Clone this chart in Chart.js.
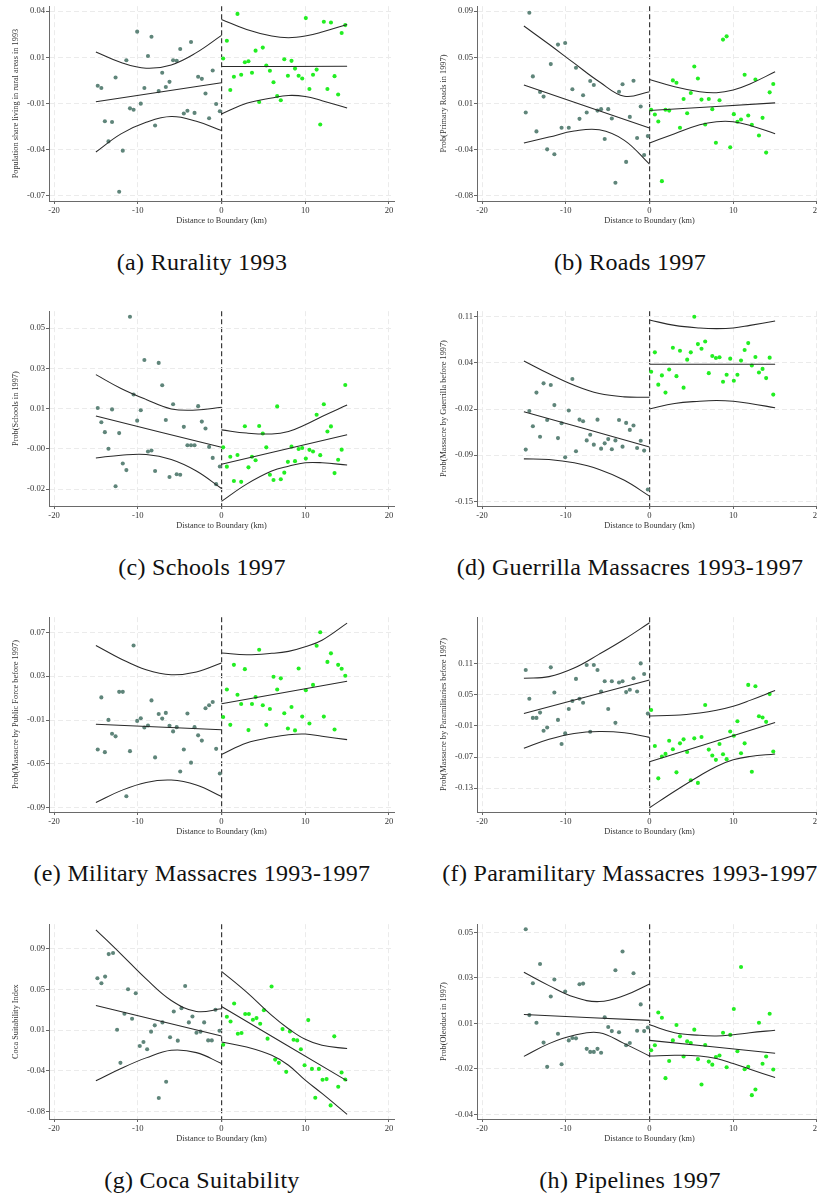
<!DOCTYPE html>
<html lang="en">
<head>
<meta charset="UTF-8">
<title>Boundary discontinuity plots</title>
<script src="https://cdn.jsdelivr.net/npm/chart.js"></script>
<style>
  html, body { margin: 0; padding: 0; background: #fff; overflow: hidden; width: 817px; height: 1195px; }
  .panel { position: absolute; width: 404px; height: 290px; }
  .panel canvas { position: absolute; left: 0; top: 0; }
  .caption {
    position: absolute; left: 0; top: 247px; width: 404px;
    text-align: center; white-space: nowrap;
    font-family: 'Liberation Serif', serif; font-size: 24px; letter-spacing: 0.3px; line-height: 30px; color: #111;
  }
</style>
</head>
<body>
<div class="panel" style="left:0;top:0"><canvas id="chartA" width="400" height="227"></canvas><div class="caption">(a) Rurality 1993</div></div>
<div class="panel" style="left:428px;top:0"><canvas id="chartB" width="400" height="227"></canvas><div class="caption">(b) Roads 1997</div></div>
<div class="panel" style="left:0;top:305px"><canvas id="chartC" width="400" height="227"></canvas><div class="caption">(c) Schools 1997</div></div>
<div class="panel" style="left:428px;top:305px"><canvas id="chartD" width="400" height="227"></canvas><div class="caption">(d) Guerrilla Massacres 1993-1997</div></div>
<div class="panel" style="left:0;top:611px"><canvas id="chartE" width="400" height="227"></canvas><div class="caption">(e) Military Massacres 1993-1997</div></div>
<div class="panel" style="left:428px;top:611px"><canvas id="chartF" width="400" height="227"></canvas><div class="caption">(f) Paramilitary Massacres 1993-1997</div></div>
<div class="panel" style="left:0;top:918px"><canvas id="chartG" width="400" height="227"></canvas><div class="caption">(g) Coca Suitability</div></div>
<div class="panel" style="left:428px;top:918px"><canvas id="chartH" width="400" height="227"></canvas><div class="caption">(h) Pipelines 1997</div></div>

<script>
// x axis
const xTicks = [-20, -10, 0, 10, 20];
const xTitle = 'Distance to Boundary (km)';

// bin centres (km from boundary)
const leftBins = [-14.78, -14.35, -13.93, -13.5, -13.07, -12.65, -12.22, -11.79, -11.36, -10.93, -10.5, -10.07,
  -9.64, -9.21, -8.78, -8.36, -7.93, -7.5, -7.08, -6.65, -6.21, -5.78, -5.35, -4.93, -4.5, -4.07, -3.64, -3.22,
  -2.79, -2.35, -1.91, -1.48, -1.05, -0.64, -0.2];
const rightBins = [0.2, 0.64, 1.05, 1.48, 1.91, 2.35, 2.79, 3.22, 3.64, 4.07, 4.5, 4.93, 5.35, 5.78, 6.21, 6.65,
  7.08, 7.5, 7.93, 8.36, 8.78, 9.21, 9.64, 10.07, 10.5, 10.93, 11.36, 11.79, 12.22, 12.65, 13.07, 13.5, 13.93,
  14.35, 14.78];

// x positions of fitted lines and confidence bands
const fitLeftX = [-15, 0];
const fitRightX = [0, 15];
const ciLeftX = [-15, -12, -9, -6, -3, 0];
const ciRightX = [0, 3, 6, 8, 10, 12, 15];

// (a) Rurality 1993
const aYTicks = [-0.07, -0.0425, -0.015, 0.0125, 0.04];
const aYLabels = ['-0.07', '-0.04', '-0.01', '0.01', '0.04'];
const aLeft = [-0.0044, -0.0058, -0.0256, -0.0376, -0.0260, 0.0005, -0.0676, -0.0431, 0.0108, -0.0179, -0.0187, 0.0278,
  -0.0151, -0.0058, 0.0133, 0.0248, -0.0281, -0.0076, 0.0033, -0.0052, -0.0021, 0.0108, 0.0104, 0.0175, -0.0210,
  -0.0193, 0.0216, -0.0206, 0.0009, -0.0003, -0.0090, -0.0238, 0.0047, -0.0153, -0.0196];
const aRight = [0.0118, 0.0224, -0.0070, 0.0009, 0.0384, 0.0021, 0.0096, 0.0102, 0.0033, 0.0165, -0.0141, 0.0183,
  0.0076, 0.0045, -0.0023, -0.0106, -0.0131, 0.0114, 0.0015, 0.0104, 0.0058, 0.0015, -0.0001, 0.0359, -0.0064,
  0.0021, 0.0052, -0.0275, 0.0337, -0.0064, 0.0333, 0.0013, -0.0096, 0.0270, 0.0317];
const aFitL = [-0.0139, -0.0027];
const aFitR = [0.0070, 0.0072];
const aUpL = [0.0157, 0.0094, 0.0060, 0.0080, 0.0153, 0.0256];
const aLoL = [-0.0439, -0.0331, -0.0262, -0.0228, -0.0256, -0.0311];
const aUpR = [0.0351, 0.0291, 0.0252, 0.0242, 0.0252, 0.0276, 0.0321];
const aLoR = [-0.0212, -0.0149, -0.0117, -0.0102, -0.0108, -0.0133, -0.0177];

// (b) Roads 1997
const bYTicks = [-0.08, -0.0375, 0.005, 0.0475, 0.09];
const bYLabels = ['-0.08', '-0.04', '0.01', '0.05', '0.09'];
const bLeft = [-0.0034, 0.0885, 0.0299, -0.0208, 0.0155, 0.0113, -0.0373, 0.0412, -0.0418, 0.0592, -0.0174, 0.0607,
  -0.0174, 0.0180, 0.0378, -0.0092, 0.0125, -0.0034, 0.0256, 0.0219, -0.0016, -0.0003, -0.0278, -0.0003, -0.0089,
  -0.0681, 0.0158, 0.0226, -0.0489, -0.0074, 0.0259, -0.0269, 0.0021, -0.0425, -0.0251];
const bRight = [-0.0009, -0.0052, -0.0116, -0.0666, -0.0009, -0.0016, 0.0262, 0.0241, -0.0174, 0.0091, -0.0040, 0.0146,
  0.0390, 0.0280, 0.0085, -0.0144, 0.0091, -0.0003, -0.0312, 0.0079, 0.0638, 0.0668, -0.0354, -0.0049, -0.0119,
  -0.0098, 0.0314, -0.0061, -0.0147, 0.0271, -0.0245, -0.0083, -0.0403, 0.0152, 0.0229];
const bFitL = [0.0219, -0.0177];
const bFitR = [-0.0016, 0.0055];
const bUpL = [0.0763, 0.0595, 0.0421, 0.0250, 0.0116, 0.0158];
const bLoL = [-0.0315, -0.0260, -0.0205, -0.0193, -0.0290, -0.0510];
const bUpR = [0.0271, 0.0204, 0.0158, 0.0149, 0.0174, 0.0229, 0.0341];
const bLoR = [-0.0315, -0.0229, -0.0147, -0.0119, -0.0119, -0.0153, -0.0229];

// (c) Schools 1997
const cYTicks = [-0.02, -0.0025, 0.015, 0.0325, 0.05];
const cYLabels = ['-0.02', '-0.00', '0.01', '0.03', '0.05'];
const cLeft = [0.0153, 0.0091, 0.0048, -0.0024, 0.0147, -0.0187, 0.0044, -0.0088, -0.0117, 0.0550, 0.0212, 0.0098,
  0.0143, 0.0362, -0.0036, -0.0032, -0.0121, 0.0349, 0.0252, 0.0101, -0.0147, 0.0169, -0.0135, -0.0137, 0.0071,
  -0.0009, -0.0009, -0.0009, 0.0161, 0.0094, 0.0064, -0.0016, -0.0064, -0.0178, -0.0101];
const cRight = [-0.0018, -0.0102, -0.0059, -0.0164, -0.0051, -0.0168, 0.0074, -0.0105, -0.0059, -0.0074, 0.0075, 0.0042,
  -0.0018, -0.0137, -0.0160, 0.0160, -0.0157, -0.0128, -0.0081, -0.0015, -0.0078, -0.0025, -0.0021, -0.0067, -0.0029,
  -0.0036, 0.0124, -0.0052, 0.0169, 0.0051, 0.0073, -0.0130, -0.0072, -0.0028, 0.0253];
const cFitL = [0.0118, -0.0018];
const cFitR = [-0.0092, 0.0037];
const cUpL = [0.0298, 0.0238, 0.0190, 0.0149, 0.0144, 0.0156];
const cLoL = [-0.0064, -0.0052, -0.0049, -0.0071, -0.0121, -0.0197];
const cUpR = [0.0058, 0.0044, 0.0040, 0.0051, 0.0080, 0.0116, 0.0166];
const cLoR = [-0.0253, -0.0178, -0.0121, -0.0100, -0.0085, -0.0085, -0.0095];

// (d) Guerrilla massacres
const dYTicks = [-0.15, -0.085, -0.02, 0.045, 0.11];
const dYLabels = ['-0.15', '-0.09', '-0.02', '0.04', '0.11'];
const dLeft = [-0.0771, -0.0228, -0.0441, 0.0032, -0.0590, 0.0162, -0.0353, 0.0139, -0.0144, -0.0609, -0.0400, -0.0878,
  -0.0219, 0.0223, -0.0794, -0.0349, -0.0372, -0.0641, -0.0562, -0.0701, -0.0349, -0.0757, -0.0683, -0.0623, -0.0766,
  -0.0641, -0.0353, -0.0729, -0.0395, -0.0493, -0.0432, -0.0748, -0.0646, -0.0785, -0.1333];
const dRight = [0.0325, 0.0599, 0.0144, 0.0274, 0.0032, 0.0357, 0.0664, 0.0264, 0.0622, 0.0102, 0.0496, 0.0599,
  0.1100, 0.0715, 0.0650, 0.0752, 0.0306, 0.0548, 0.0520, 0.0529, 0.0185, 0.0283, 0.0510, 0.0199, 0.0283, 0.0483,
  0.0631, 0.0729, 0.0413, 0.0534, 0.0315, 0.0366, 0.0236, 0.0524, 0.0004];
const dFitL = [-0.0237, -0.0734];
const dFitR = [0.0431, 0.0431];
const dUpL = [0.0478, 0.0297, 0.0134, 0.0018, -0.0028, -0.0033];
const dLoL = [-0.0901, -0.0910, -0.0957, -0.1050, -0.1203, -0.1426];
const dUpR = [0.1054, 0.0979, 0.0942, 0.0933, 0.0942, 0.0979, 0.1040];
const dLoR = [-0.0200, -0.0121, -0.0089, -0.0079, -0.0089, -0.0121, -0.0181];

// (e) Military massacres
const eYTicks = [-0.09, -0.05, -0.01, 0.03, 0.07];
const eYLabels = ['-0.09', '-0.05', '-0.01', '0.03', '0.07'];
const eLeft = [-0.0369, 0.0106, -0.0393, -0.0099, -0.0225, -0.0249, 0.0157, 0.0157, -0.0795, -0.0384, 0.0580, -0.0108,
  -0.0084, -0.0168, -0.0150, 0.0079, -0.0441, -0.0045, -0.0087, -0.0035, -0.0153, -0.0204, -0.0165, -0.0570, -0.0369,
  -0.0041, -0.0489, -0.0165, -0.0240, -0.0288, 0.0007, 0.0034, 0.0064, -0.0363, -0.0588];
const eRight = [-0.0072, 0.0178, -0.0144, 0.0403, 0.0130, 0.0046, 0.0364, -0.0192, 0.0046, 0.0109, 0.0541, 0.0034,
  -0.0144, 0.0001, 0.0295, 0.0178, 0.0280, -0.0039, -0.0177, 0.0019, -0.0195, 0.0370, -0.0069, 0.0172, -0.0132,
  0.0220, 0.0577, 0.0700, -0.0069, 0.0430, 0.0508, -0.0186, 0.0403, 0.0367, 0.0304];
const eFitL = [-0.0138, -0.0189];
const eFitR = [0.0049, 0.0253];
const eUpL = [0.0580, 0.0457, 0.0358, 0.0313, 0.0337, 0.0421];
const eLoL = [-0.0852, -0.0744, -0.0669, -0.0648, -0.0693, -0.0798];
const eUpR = [0.0511, 0.0496, 0.0508, 0.0526, 0.0568, 0.0628, 0.0784];
const eLoR = [-0.0414, -0.0309, -0.0258, -0.0234, -0.0228, -0.0249, -0.0279];

// (f) Paramilitary massacres
const fYTicks = [-0.13, -0.07, -0.01, 0.05, 0.11];
const fYLabels = ['-0.13', '-0.07', '-0.01', '0.05', '0.11'];
const fLeft = [0.0973, 0.0421, 0.0052, 0.0052, 0.0154, -0.0195, -0.0132, 0.1024, 0.0541, 0.0014, -0.0449, -0.0246,
  0.0224, 0.0376, 0.0802, 0.0421, 0.0344, 0.1068, -0.0214, 0.1068, 0.0973, 0.0560, 0.0757, 0.0224, 0.0757, -0.0043,
  0.0732, 0.0757, 0.0548, 0.0592, 0.0814, 0.0560, 0.1100, 0.0897, 0.0135];
const fRight = [0.0205, -0.0487, -0.1110, -0.0690, -0.0640, -0.0386, -0.0551, -0.0995, -0.0437, -0.0360, -0.0602,
  -0.1148, -0.0341, -0.1198, -0.0316, 0.0300, -0.0557, -0.0671, -0.0754, -0.0449, -0.0646, -0.0741, -0.0208, -0.0290,
  -0.0011, -0.0627, -0.0437, 0.0687, -0.0983, 0.0662, 0.0084, 0.0059, -0.0024, 0.0510, -0.0595];
const fFitL = [0.0135, 0.0783];
const fFitR = [-0.0792, -0.0037];
const fUpL = [0.0814, 0.0846, 0.1011, 0.1278, 0.1564, 0.1881];
const fLoL = [-0.0532, -0.0360, -0.0246, -0.0208, -0.0233, -0.0322];
const fUpR = [0.0090, 0.0103, 0.0148, 0.0198, 0.0275, 0.0389, 0.0579];
const fLoR = [-0.1675, -0.1357, -0.1059, -0.0881, -0.0754, -0.0690, -0.0640];

// (g) Coca suitability
const gYTicks = [-0.08, -0.0375, 0.005, 0.0475, 0.09];
const gYLabels = ['-0.08', '-0.04', '0.01', '0.05', '0.09'];
const gLeftX = [-14.82, -14.34, -13.90, -13.47, -12.95, -12.47, -12.07, -11.59, -11.16, -10.68, -10.24, -9.76, -9.32,
  -8.88, -8.41, -7.97, -7.49, -7.05, -6.61, -6.14, -5.70, -5.22, -4.78, -4.34, -3.90, -3.47, -2.99, -2.51, -2.07,
  -1.59, -1.16, -0.72, -0.24];
const gLeft = [0.0591, 0.0539, 0.0609, 0.0844, 0.0855, 0.0053, -0.0293, 0.0220, 0.0477, 0.0168, 0.0435, -0.0117,
  -0.0075, -0.0151, 0.0033, 0.0099, -0.0661, 0.0130, -0.0491, -0.0026, 0.0244, -0.0061, 0.0279, 0.0511, 0.0130,
  0.0192, 0.0022, 0.0033, 0.0130, -0.0058, -0.0058, 0.0262, 0.0043];
const gRightX = [0.20, 0.64, 1.08, 1.51, 1.95, 2.39, 2.83, 3.27, 3.75, 4.18, 4.62, 5.06, 5.50, 5.98, 6.41, 6.85, 7.29,
  7.73, 8.17, 8.61, 9.04, 9.48, 9.92, 10.36, 10.80, 11.20, 11.63, 12.07, 12.55, 13.03, 13.47, 13.94, 14.34, 14.78];
const gRight = [-0.0103, 0.0189, 0.0140, 0.0328, 0.0012, 0.0019, 0.0217, 0.0217, 0.0158, 0.0175, 0.0116, 0.0258,
  -0.0040, 0.0505, -0.0259, -0.0293, 0.0060, -0.0387, 0.0036, -0.0051, -0.0058, -0.0151, -0.0318, 0.0154, -0.0356,
  -0.0658, -0.0356, -0.0470, -0.0463, -0.0738, -0.0016, -0.0543, -0.0394, -0.0467];
const gFitL = [0.0307, -0.0012];
const gFitR = [0.0296, -0.0481];
const gUpL = [0.1098, 0.0844, 0.0584, 0.0359, 0.0244, 0.0272];
const gLoL = [-0.0481, -0.0352, -0.0241, -0.0162, -0.0186, -0.0300];
const gUpR = [0.0664, 0.0446, 0.0203, 0.0064, -0.0047, -0.0110, -0.0144];
const gLoR = [-0.0075, -0.0127, -0.0214, -0.0318, -0.0474, -0.0613, -0.0831];

// (h) Pipelines 1997
const hYTicks = [-0.04, -0.0175, 0.005, 0.0275, 0.05];
const hYLabels = ['-0.04', '-0.02', '0.01', '0.03', '0.05'];
const hLeft = [0.0516, 0.0091, 0.0249, 0.0053, 0.0344, -0.0045, -0.0165, 0.0183, 0.0267, -0.0001, -0.0152, 0.0208,
  -0.0034, -0.0022, -0.0024, 0.0244, 0.0247, -0.0076, -0.0091, -0.0091, -0.0076, -0.0095, 0.0080, 0.0032, 0.0012,
  0.0313, 0.0006, 0.0406, -0.0058, -0.0047, 0.0298, 0.0014, 0.0144, 0.0012, 0.0030];
const hRight = [-0.0083, -0.0058, 0.0104, 0.0078, -0.0221, -0.0136, -0.0034, 0.0042, -0.0014, -0.0114, -0.0039, -0.0047,
  0.0019, -0.0127, -0.0252, -0.0057, -0.0139, -0.0154, -0.0116, -0.0109, 0.0004, -0.0167, -0.0007, 0.0121, -0.0088,
  0.0329, -0.0177, -0.0165, -0.0305, -0.0277, 0.0053, -0.0150, -0.0114, 0.0098, -0.0178];
const hFitL = [0.0094, 0.0065];
const hFitR = [-0.0034, -0.0098];
const hUpL = [0.0303, 0.0237, 0.0180, 0.0158, 0.0188, 0.0245];
const hLoL = [-0.0113, -0.0050, -0.0009, 0.0004, -0.0050, -0.0111];
const hUpR = [0.0043, 0.0004, -0.0009, -0.0012, -0.0006, 0.0004, 0.0016];
const hLoR = [-0.0111, -0.0108, -0.0111, -0.0124, -0.0149, -0.0177, -0.0218];

const GREY = '#5f857a';
const LIME = '#22ee22';
const LINE = '#2a2a2a';

Chart.defaults.font.family = "'Liberation Serif', 'Times New Roman', serif";
Chart.defaults.color = '#333';

function pts(xs, ys) {
  return xs.map((x, i) => ({ x: x, y: ys[i] }));
}

function curve(xs, ys) {
  return { data: pts(xs, ys), showLine: true, borderColor: LINE, borderWidth: 1.05, pointRadius: 0, tension: 0.4, fill: false };
}

function dots(xs, ys, color) {
  return { data: pts(xs, ys), backgroundColor: color, borderWidth: 0, pointRadius: 2.05, showLine: false };
}

function drawPanel(id, p) {
  const isZero = c => c.tick && c.tick.value === 0;
  new Chart(document.getElementById(id), {
    type: 'scatter',
    data: {
      datasets: [
        curve(fitLeftX, p.fitL), curve(fitRightX, p.fitR),
        curve(ciLeftX, p.upL), curve(ciLeftX, p.loL),
        curve(ciRightX, p.upR), curve(ciRightX, p.loR),
        dots(p.leftX || leftBins, p.left, GREY),
        dots(p.rightX || rightBins, p.right, LIME)
      ]
    },
    options: {
      responsive: false,
      animation: false,
      layout: { padding: { top: 5, right: 6, bottom: 0, left: 0 } },
      plugins: { legend: { display: false }, tooltip: { enabled: false } },
      scales: {
        x: {
          type: 'linear', min: -20.6, max: 20.6,
          afterBuildTicks: s => { s.ticks = xTicks.map(v => ({ value: v })); },
          afterFit: s => { s.height = 26; },
          grid: {
            color: c => isZero(c) ? '#3a3a3a' : '#ebebeb',
            lineWidth: c => isZero(c) ? 1.2 : 1,
            tickLength: 3, tickColor: '#666'
          },
          border: { color: '#6a6a6a', dash: [5, 3] },
          ticks: { padding: 2, maxRotation: 0, font: { size: 8.6 }, color: '#333' },
          title: { display: true, text: xTitle, font: { size: 8.3 }, color: '#333', padding: { top: 0, bottom: 1 } }
        },
        y: {
          type: 'linear', min: p.yMin, max: p.yMax,
          afterBuildTicks: s => { s.ticks = p.yTicks.map(v => ({ value: v })); },
          afterFit: s => { s.width = 49; },
          grid: { color: '#ebebeb', tickLength: 3, tickColor: '#666' },
          border: { color: '#6a6a6a', dash: [5, 3] },
          ticks: { padding: 1, font: { size: 8.6 }, color: '#333', callback: (v, i) => p.yLabels[i] },
          title: { display: true, text: p.title, font: { size: 8.3 }, color: '#333', padding: { top: 11, bottom: 0 } }
        }
      }
    }
  });
}

drawPanel('chartA', { yMin: -0.0731, yMax: 0.043, yTicks: aYTicks, yLabels: aYLabels,
  title: 'Population share living in rural areas in 1993',
  left: aLeft, right: aRight, fitL: aFitL, fitR: aFitR, upL: aUpL, loL: aLoL, upR: aUpR, loR: aLoR });
drawPanel('chartB', { yMin: -0.0849, yMax: 0.0946, yTicks: bYTicks, yLabels: bYLabels,
  title: 'Prob(Primary Roads in 1997)',
  left: bLeft, right: bRight, fitL: bFitL, fitR: bFitR, upL: bUpL, loL: bLoL, upR: bUpR, loR: bLoR });
drawPanel('chartC', { yMin: -0.0273, yMax: 0.0574, yTicks: cYTicks, yLabels: cYLabels,
  title: 'Prob(Schools in 1997)',
  left: cLeft, right: cRight, fitL: cFitL, fitR: cFitR, upL: cUpL, loL: cLoL, upR: cUpR, loR: cLoR });
drawPanel('chartD', { yMin: -0.1565, yMax: 0.1179, yTicks: dYTicks, yLabels: dYLabels,
  title: 'Prob(Massacre by Guerrilla before 1997)',
  left: dLeft, right: dRight, fitL: dFitL, fitR: dFitR, upL: dUpL, loL: dLoL, upR: dUpR, loR: dLoR });
drawPanel('chartE', { yMin: -0.0939, yMax: 0.0838, yTicks: eYTicks, yLabels: eYLabels,
  title: 'Prob(Massacre by Public Force before 1997)',
  left: eLeft, right: eRight, fitL: eFitL, fitR: eFitR, upL: eUpL, loL: eLoL, upR: eUpR, loR: eLoR });
drawPanel('chartF', { yMin: -0.1757, yMax: 0.1989, yTicks: fYTicks, yLabels: fYLabels,
  title: 'Prob(Massacre by Paramilitaries before 1997)',
  left: fLeft, right: fRight, fitL: fFitL, fitR: fFitR, upL: fUpL, loL: fLoL, upR: fUpR, loR: fLoR });
drawPanel('chartG', { yMin: -0.088, yMax: 0.1157, yTicks: gYTicks, yLabels: gYLabels,
  title: 'Coca Suitability Index',
  leftX: gLeftX, rightX: gRightX,
  left: gLeft, right: gRight, fitL: gFitL, fitR: gFitR, upL: gUpL, loL: gLoL, upR: gUpR, loR: gLoR });
drawPanel('chartH', { yMin: -0.0423, yMax: 0.0541, yTicks: hYTicks, yLabels: hYLabels,
  title: 'Prob(Oleoduct in 1997)',
  left: hLeft, right: hRight, fitL: hFitL, fitR: hFitR, upL: hUpL, loL: hLoL, upR: hUpR, loR: hLoR });
</script>
</body>
</html>
